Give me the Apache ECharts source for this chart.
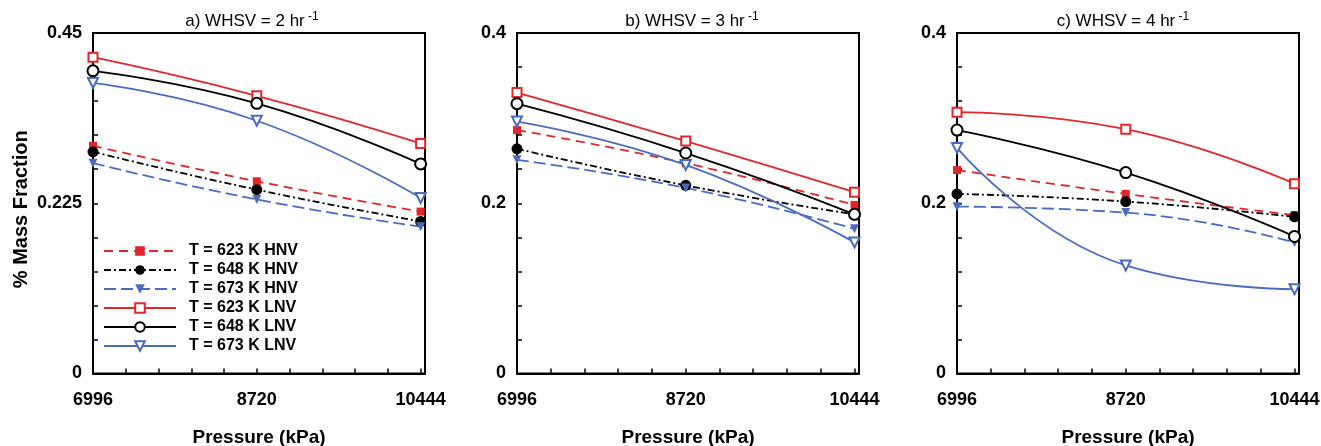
<!DOCTYPE html>
<html><head><meta charset="utf-8">
<script src="https://cdn.jsdelivr.net/npm/echarts@6/dist/echarts.min.js"></script>
<style>html,body{margin:0;padding:0;background:#fff}#c{width:1321px;height:446px}</style>
</head><body><div id="c"></div>
<script>
// ---- data ----
const pressures = [6996, 8720, 10444];
const panelTitles = ['a) WHSV = 2 hr', 'b) WHSV = 3 hr', 'c) WHSV = 4 hr'];
const titleSup = '-1';
const seriesNames = ['T = 623 K HNV', 'T = 648 K HNV', 'T = 673 K HNV', 'T = 623 K LNV', 'T = 648 K LNV', 'T = 673 K LNV'];
// panel a) WHSV = 2
const a_623_HNV = [0.301, 0.254, 0.214];
const a_648_HNV = [0.293, 0.243, 0.201];
const a_673_HNV = [0.278, 0.230, 0.194];
const a_623_LNV = [0.418, 0.367, 0.304];
const a_648_LNV = [0.400, 0.357, 0.277];
const a_673_LNV = [0.384, 0.334, 0.232];
// panel b) WHSV = 3
const b_623_HNV = [0.286, 0.247, 0.198];
const b_648_HNV = [0.264, 0.221, 0.187];
const b_673_HNV = [0.251, 0.218, 0.170];
const b_623_LNV = [0.330, 0.273, 0.213];
const b_648_LNV = [0.317, 0.259, 0.187];
const b_673_LNV = [0.296, 0.245, 0.154];
// panel c) WHSV = 4
const c_623_HNV = [0.239, 0.211, 0.186];
const c_648_HNV = [0.211, 0.202, 0.184];
const c_673_HNV = [0.196, 0.189, 0.154];
const c_623_LNV = [0.307, 0.287, 0.223];
const c_648_LNV = [0.286, 0.236, 0.161];
const c_673_LNV = [0.265, 0.127, 0.099];
// y tick labels
const yTicksA = [0, 0.225, 0.45];
const yTicksBC = [0, 0.2, 0.4];
const xAxisName = 'Pressure (kPa)';
const yAxisName = '% Mass Fraction';

// ---- styling ----
const FONT = 'Liberation Sans, Arial, sans-serif';
const RED = '#e3262b', BLACK = '#000000', BLUE = '#4a6cc0';
const panels = [
  [a_623_HNV, a_648_HNV, a_673_HNV, a_623_LNV, a_648_LNV, a_673_LNV],
  [b_623_HNV, b_648_HNV, b_673_HNV, b_623_LNV, b_648_LNV, b_673_LNV],
  [c_623_HNV, c_648_HNV, c_673_HNV, c_623_LNV, c_648_LNV, c_673_LNV]
];
const yTicks = [yTicksA, yTicksBC, yTicksBC];
const styles = [
  {color: RED, type: [9, 6], symbol: 'rect', size: 8, rot: 0},
  {color: BLACK, type: [7, 3, 2, 3], symbol: 'circle', size: 11, rot: 0},
  {color: BLUE, type: [12, 5], symbol: 'triangle', size: 9, rot: 180},
  {color: RED, type: 'solid', symbol: 'emptyRect', size: 9, rot: 0},
  {color: BLACK, type: 'solid', symbol: 'emptyCircle', size: 11, rot: 0},
  {color: BLUE, type: 'solid', symbol: 'emptyTriangle', size: 10, rot: 180}
];
const gridBoxes = [
  {left: 93, top: 33, width: 332, height: 340.5},
  {left: 517, top: 33, width: 342, height: 340.5},
  {left: 957, top: 33, width: 342, height: 340.5}
];
const titleCenters = [252, 692, 1123];
const xMax = 10490;
const xStep = (pressures[1] - pressures[0]) / 5;
const xTickVals = [];
for (let i = 0; i <= 10; i++) xTickVals.push(pressures[0] + i * xStep);

const grid = [], xAxis = [], yAxis = [], series = [], graphic = [];
panels.forEach((pd, p) => {
  grid.push(Object.assign({show: true, borderColor: '#000', borderWidth: 2, backgroundColor: 'transparent',
    containLabel: false, outerBoundsMode: 'none'}, gridBoxes[p]));
  xAxis.push({
    type: 'value', gridIndex: p, min: pressures[0], max: xMax,
    axisLine: {show: true, lineStyle: {color: '#000', width: 2}},
    axisTick: {show: true, inside: true, length: 5, lineStyle: {color: '#000', width: 1.5}, customValues: xTickVals},
    axisLabel: {customValues: pressures, formatter: v => String(v), margin: 18,
      fontSize: 18, fontWeight: 'bold', color: '#000', fontFamily: FONT},
    splitLine: {show: false},
    name: xAxisName, nameLocation: 'middle', nameGap: 55,
    nameTextStyle: {fontSize: 19, fontWeight: 'bold', color: '#000', fontFamily: FONT}
  });
  const yt = yTicks[p];
  yAxis.push({
    type: 'value', gridIndex: p, min: yt[0], max: yt[yt.length - 1], interval: yt[1] - yt[0],
    axisLine: {show: true, lineStyle: {color: '#000', width: 2}},
    axisTick: {show: true, inside: true, length: 5, lineStyle: {color: '#000', width: 1.5}},
    minorTick: {show: true, splitNumber: 5, length: 5, lineStyle: {color: '#000', width: 1.5}},
    axisLabel: {margin: 11, fontSize: 18, fontWeight: 'bold', color: '#000', fontFamily: FONT},
    splitLine: {show: false}, minorSplitLine: {show: false},
    name: p === 0 ? yAxisName : '', nameLocation: 'middle', nameGap: 62,
    nameTextStyle: {fontSize: 20, fontWeight: 'bold', color: '#000', fontFamily: FONT, padding: [0, 12, 0, 0]}
  });
  pd.forEach((vals, s) => {
    const st = styles[s];
    series.push({
      type: 'line', name: seriesNames[s], xAxisIndex: p, yAxisIndex: p,
      data: pressures.map((x, i) => [x, vals[i]]),
      smooth: true, clip: false, symbol: st.symbol, symbolSize: st.size, symbolRotate: st.rot,
      showAllSymbol: true,
      lineStyle: {color: st.color, width: 1.8, type: st.type},
      itemStyle: {color: st.color},
      emphasis: {disabled: true}, z: s < 3 ? 3 : 4
    });
  });
  graphic.push({
    type: 'text', x: titleCenters[p], y: 31, z: 100,
    style: {
      text: '{m|' + panelTitles[p] + '} {s|' + titleSup + '}',
      align: 'center', verticalAlign: 'bottom',
      rich: {
        m: {fontSize: 17, fontFamily: FONT, fill: '#000', lineHeight: 20},
        s: {fontSize: 12, fontFamily: FONT, fill: '#000', lineHeight: 12, verticalAlign: 'top'}
      }
    }
  });
});

const chart = echarts.init(document.getElementById('c'), null, {renderer: 'canvas'});
chart.setOption({
  backgroundColor: '#fff',
  animation: false,
  grid, xAxis, yAxis, series, graphic,
  legend: {
    data: seriesNames, left: 103, top: 243, orient: 'vertical', padding: 0,
    itemWidth: 72, itemHeight: 12, itemGap: 3, selectedMode: false,
    textStyle: {fontSize: 16, fontWeight: 'bold', color: '#000', fontFamily: FONT, padding: [0, 0, 0, 8]}
  }
});
</script></body></html>
